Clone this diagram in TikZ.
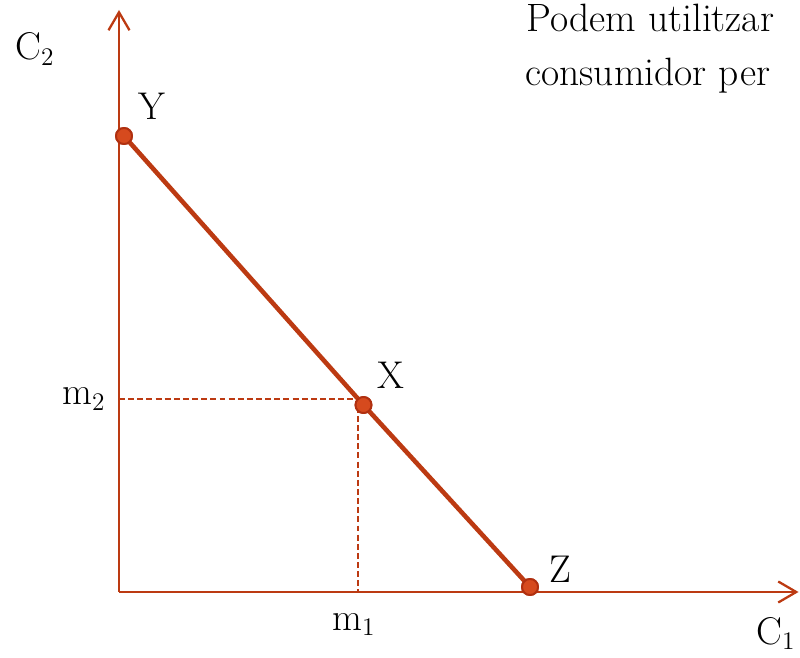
\documentclass[tikz,border=0pt]{standalone}
\usepackage{fontspec}
\usepackage{xcolor}
\usepackage{tikz}
\usetikzlibrary{arrows.meta,positioning,calc}
\definecolor{axiscol}{RGB}{188,58,18}
\definecolor{dotfill}{RGB}{214,74,30}
\definecolor{dotline}{RGB}{176,48,16}
\tikzset{
  axis/.style={draw=axiscol, line width=1.6pt, -{Straight Barb[length=3.6mm, width=4.2mm, line width=1.3pt]}},
  budget/.style={draw=axiscol, line width=2.6pt},
  guide/.style={draw=axiscol, line width=0.8pt, dash pattern=on 3.4pt off 1.8pt},
  pt/.style={circle, fill=dotfill, draw=dotline, line width=1.1pt, minimum size=3.2mm, inner sep=0pt},
  lbl/.style={anchor=base west, inner sep=0pt, font=\fontsize{22}{26}\selectfont},
  txt/.style={anchor=base west, inner sep=0pt, font=\fontsize{22.5}{27}\selectfont},
}
\begin{document}
\begin{tikzpicture}
\useasboundingbox (0,0) rectangle (16,13.14);
% axes
\coordinate (O) at (2.38,1.30);
\coordinate (ytop) at (2.38,12.94);
\coordinate (xend) at (15.97,1.30);
\draw[axis] (O) -- (ytop);
\draw[axis] (O) -- (xend);
% guides to the point X
\coordinate (c) at (7.16,5.16);
\draw[guide] (O |- c) -- (c) -- (c |- O);
% budget line
\node[pt] (Y) at (2.48,10.42) {};
\node[pt] (X) at (7.27,5.04) {};
\node[pt] (Z) at (10.60,1.40) {};
\draw[budget] (Y.center) -- (X.center) -- (Z.center);
\node[pt] at (Y) {};
\node[pt] at (X) {};
\node[pt] at (Z) {};
% labels
\node[lbl] (lY) at (2.76,10.74) {Y};
\node[lbl] (lX) at (7.54,5.36) {X};
\node[lbl] (lZ) at (10.98,1.48) {Z};
\node[lbl] (lc2) at (0.30,11.94) {C$_2$};
\node[lbl] (lc1) at (15.12,0.26) {C$_1$};
\node[lbl] (lm2) at (1.24,5.04) {m$_2$};
\node[lbl] (lm1) at (6.64,0.54) {m$_1$};
\node[txt] (note1) at (10.52,12.50) {Podem utilitzar};
\node[txt] (note2) at (10.50,11.42) {consumidor per};
\end{tikzpicture}
\end{document}
